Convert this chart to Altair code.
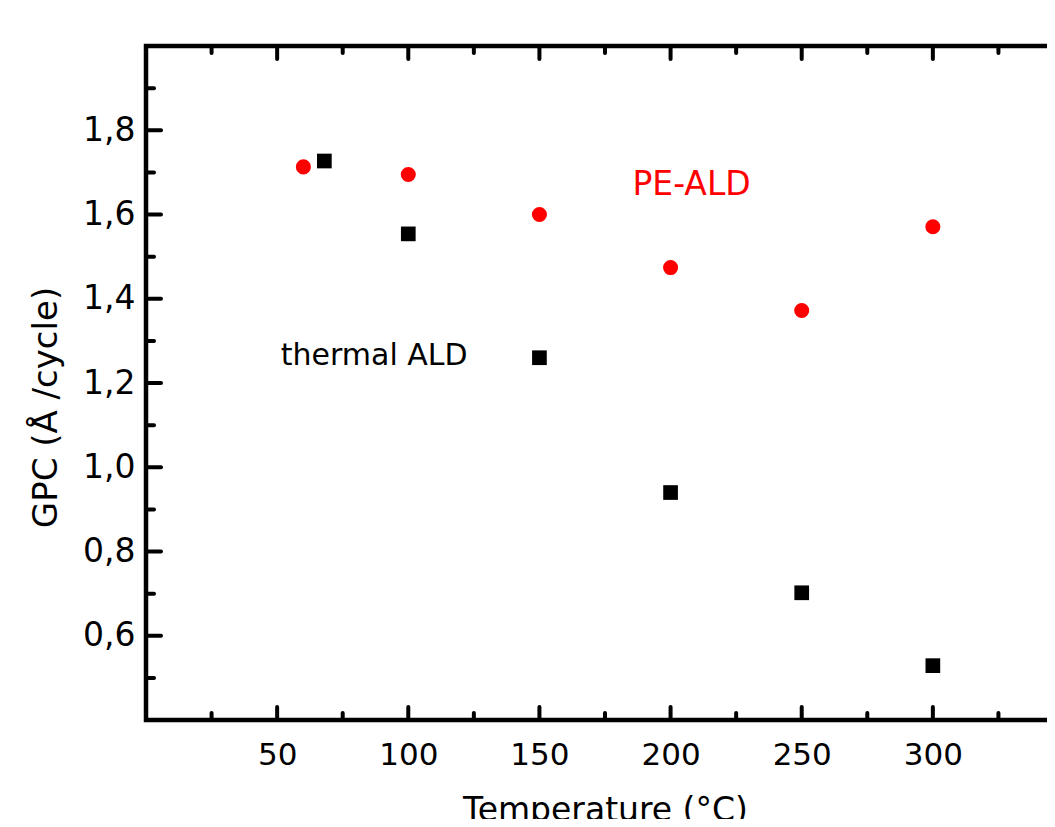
import altair as alt
import pandas as pd

# ---- data ----
pe_temp = [60, 100, 150, 200, 250, 300]
pe_gpc = [1.713, 1.695, 1.600, 1.474, 1.372, 1.571]

th_temp = [68, 100, 150, 200, 250, 300]
th_gpc = [1.727, 1.554, 1.260, 0.940, 0.702, 0.529]

x_major = [50, 100, 150, 200, 250, 300]
x_minor = [25, 75, 125, 175, 225, 275, 325]
y_major = [0.6, 0.8, 1.0, 1.2, 1.4, 1.6, 1.8]
y_minor = [0.5, 0.7, 0.9, 1.1, 1.3, 1.5, 1.7, 1.9]

label_text = ["PE-ALD", "thermal ALD"]
label_x = [208, 87]
label_y = [1.67, 1.264]
label_color = ["#ff0000", "#000000"]
label_size = [33, 30]

X_DOMAIN = [0, 350]
Y_DOMAIN = [0.4, 2.0]
W, H = 918, 674
FONT = "DejaVu Sans"

xs = alt.Scale(domain=X_DOMAIN, nice=False, zero=False)
ys = alt.Scale(domain=Y_DOMAIN, nice=False, zero=False)

pe = pd.DataFrame({"t": pe_temp, "g": pe_gpc})
th = pd.DataFrame({"t": th_temp, "g": th_gpc})
labels = pd.DataFrame({"text": label_text, "t": label_x, "g": label_y,
                       "c": label_color, "s": label_size})

base_x = alt.X("t:Q", scale=xs, axis=alt.Axis(
    values=x_major, title="Temperature (°C)", titleX=W / 2, titleY=100,
    titleBaseline="alphabetic", titleAlign="center", titleFontSize=33,
    labelPadding=20))
base_y = alt.Y("g:Q", scale=ys, axis=alt.Axis(
    values=y_major, title="GPC (Å /cycle)", titleX=-90, titleY=361,
    titleAngle=270, titleBaseline="alphabetic", titleAlign="center",
    titleFontSize=34, labelPadding=11, labelFontSize=33,
    labelExpr="replace(format(datum.value, '.1f'), '.', ',')"))

pe_layer = alt.Chart(pe).mark_point(filled=True, shape="circle", size=227, color="#ff0000", opacity=1).encode(
    x=base_x, y=base_y)
th_layer = alt.Chart(th).mark_point(filled=True, shape="square", size=216, color="#000000", opacity=1).encode(
    x="t:Q", y="g:Q")

text_layer = alt.Chart(labels).mark_text(font=FONT, align="center", baseline="middle").encode(
    x="t:Q", y="g:Q", text="text:N",
    color=alt.Color("c:N", scale=None),
    size=alt.Size("s:Q", scale=None))

def xticks(vals, length):
    df = pd.DataFrame({"t": vals})
    bottom = alt.Chart(df).mark_rule(color="black", strokeWidth=4, strokeCap="round").encode(
        x="t:Q", y=alt.value(H), y2=alt.value(H - length))
    top = alt.Chart(df).mark_rule(color="black", strokeWidth=4, strokeCap="round").encode(
        x="t:Q", y=alt.value(0), y2=alt.value(length))
    return [bottom, top]

def yticks(vals, length):
    df = pd.DataFrame({"g": vals})
    left = alt.Chart(df).mark_rule(color="black", strokeWidth=4, strokeCap="round").encode(
        y="g:Q", x=alt.value(0), x2=alt.value(length))
    right = alt.Chart(df).mark_rule(color="black", strokeWidth=4, strokeCap="round").encode(
        y="g:Q", x=alt.value(W), x2=alt.value(W - length))
    return [left, right]

layers = [pe_layer, th_layer, text_layer]
layers += xticks(x_major, 13) + xticks(x_minor, 7) + yticks(y_major, 15) + yticks(y_minor, 8)

chart = alt.layer(*layers).properties(
    width=W, height=H,
    autosize=alt.AutoSizeParams(type="none"),
    padding={"left": 138, "top": 38, "right": -17, "bottom": 99},
).configure_view(
    stroke="black", strokeWidth=4.5
).configure_axis(
    domain=False, ticks=False, grid=False,
    labelFont=FONT, labelFontSize=31, labelColor="black",
    titleFont=FONT, titleFontSize=31, titleColor="black", titleFontWeight="normal",
)

chart.save("out.html", embed_options={"renderer": "svg", "actions": False})
